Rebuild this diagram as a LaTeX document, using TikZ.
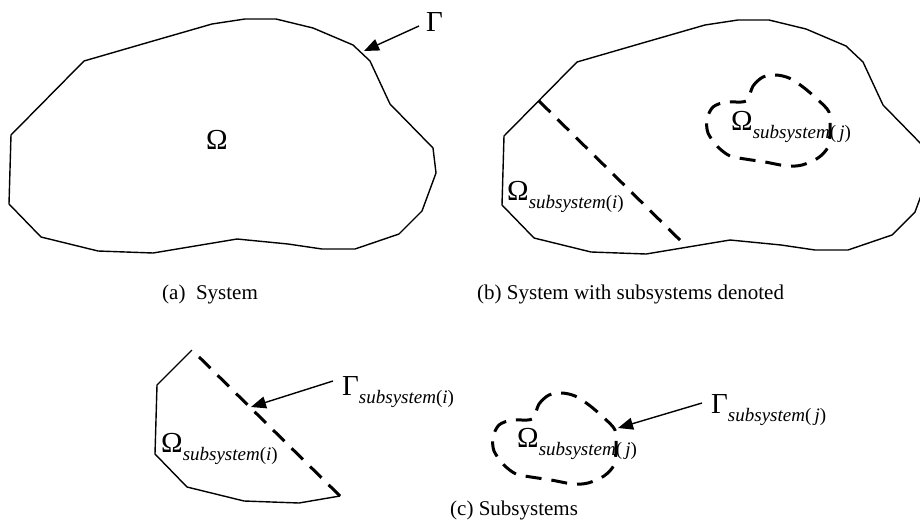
\documentclass[tikz,border=0pt]{standalone}
\usepackage{fontspec}
\setmainfont{Liberation Serif}
\usetikzlibrary{arrows.meta}

% lowered italic index after Omega / Gamma
\newcommand{\subsc}[1]{\raisebox{-8.5pt}{\fontsize{19}{19}\selectfont\textit{subsystem}(\textit{#1})}}
% outline of the whole system, in the frame of picture (a)
\newcommand{\sysrim}{(84,61) -- (153,41) -- (212,24) -- (245,19) -- (276,19) -- (313,28) -- (353,45) -- (370,61) -- (390,104) -- (433,148) -- (436,173) -- (422,211) -- (399,234) -- (355,249) -- (322,249) -- (288,244) -- (237,239) -- (153,253) -- (98,251) -- (41,237) -- (9,204) -- (11,135) -- cycle}
% boundary of subsystem j, in the frame of picture (b)
\newcommand{\blobrim}{plot[smooth cycle, tension=0.5] coordinates {(746,101) (753,86) (763,77) (776,75) (789,78) (803,87) (817,99) (829,112) (830,130) (828,147) (818,158) (802,165) (787,166) (765,162) (745,159) (730,156) (718,147) (708,133) (707,119) (713,107) (726,102)}}

\begin{document}
\begin{tikzpicture}[x=1pt, y=-1pt,
  rim/.style={line width=1.4pt, line join=miter},
  cutline/.style={line width=3pt, dash pattern=on 16pt off 10pt},
  pointer/.style={line width=1.4pt, -{Triangle[length=15pt,width=12pt]}},
  sym/.style={anchor=base west, inner sep=0pt, font=\fontsize{29}{29}\selectfont},
  capt/.style={anchor=base west, inner sep=0pt, font=\fontsize{21}{21}\selectfont}]
  \useasboundingbox (0,0) rectangle (920,527);

  % (a) the system
  \draw[rim] \sysrim;
  \node[sym] (omA) at (206,149) {Ω};
  \node[sym] (gamA) at (426,32) {Γ};
  \coordinate (tipA) at (364,51);
  \draw[pointer] ([shift={(-7,-6)}]gamA.base west) -- (tipA);
  \node[capt] (captA) at (162,299) {(a)\ \ System};

  % (b) system with subsystems
  \begin{scope}[shift={(493,1)}]
    \draw[rim] \sysrim;
    \draw[cutline] (46,100) -- (194,246);
  \end{scope}
  \draw[cutline] \blobrim;
  \node[sym] (omBi) at (507,200) {Ω\subsc{i}};
  \node[sym] (omBj) at (731,130) {Ω\subsc{\,j}};
  \node[capt] (captB) at (477,299) {(b) System with subsystems denoted};

  % (c) the subsystems on their own
  \begin{scope}[shift={(146,250)}]
    \draw[rim] (46,100) -- (11,135) -- (9,204) -- (41,237) -- (98,251) -- (153,253) -- (194,246);
    \draw[cutline] (194,246) -- (46,100);
  \end{scope}
  \begin{scope}[shift={(-214,318)}]
    \draw[cutline] \blobrim;
  \end{scope}
  \node[sym] (omCi) at (161,452) {Ω\subsc{i}};
  \node[sym] (gamCi) at (342,395) {Γ\subsc{i}};
  \coordinate (tipCi) at (251,407);
  \draw[pointer] ([shift={(-9,-14)}]gamCi.base west) -- (tipCi);
  \node[sym] (omCj) at (517,447) {Ω\subsc{\,j}};
  \node[sym] (gamCj) at (711,413) {Γ\subsc{\,j}};
  \coordinate (tipCj) at (618,428);
  \draw[pointer] ([shift={(-9,-10)}]gamCj.base west) -- (tipCj);
  \node[capt] (captC) at (450,515) {(c) Subsystems};
\end{tikzpicture}
\end{document}
